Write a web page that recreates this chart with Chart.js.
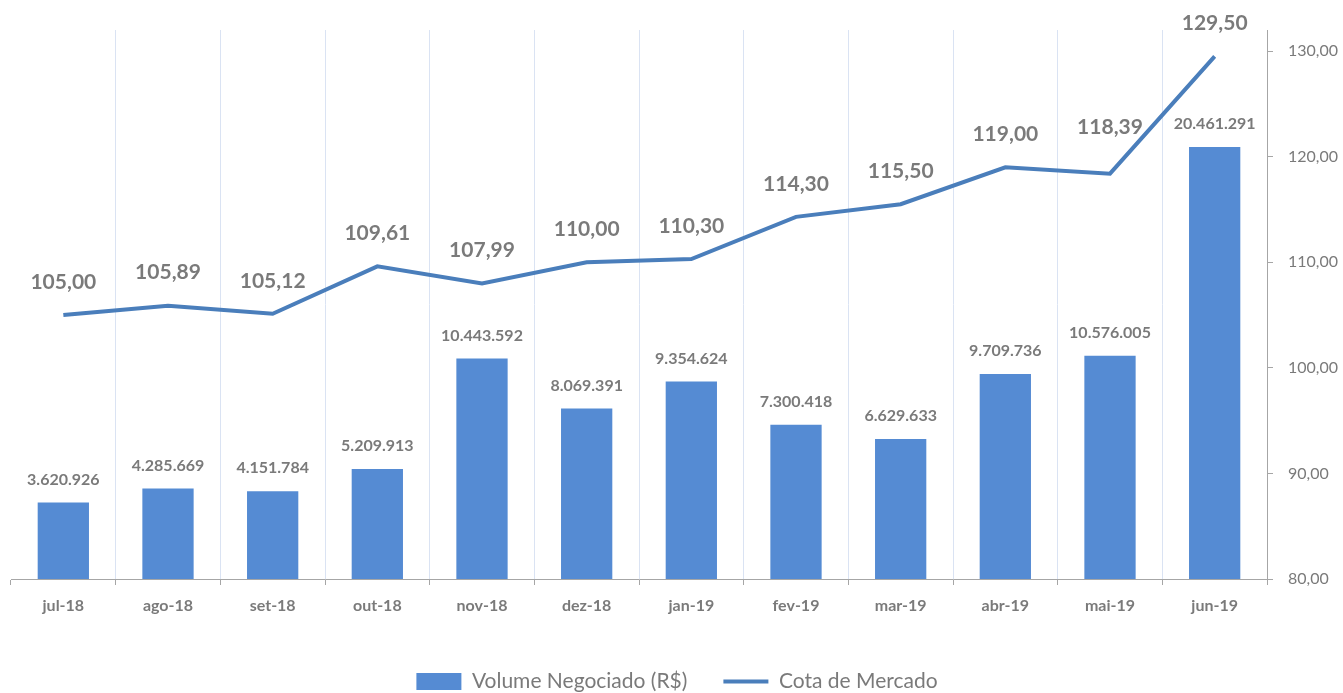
<!DOCTYPE html>
<html>
<head>
<meta charset="utf-8">
<script src="https://cdn.jsdelivr.net/npm/chart.js@4"></script>
<style>
  html, body { margin: 0; padding: 0; background: #fff; }
  #wrap { width: 1343px; height: 693px; }
</style>
</head>
<body>
<div id="wrap"><canvas id="mainChart"></canvas></div>
<script>
'use strict';

/* data */
var months = ['jul-18', 'ago-18', 'set-18', 'out-18', 'nov-18', 'dez-18',
              'jan-19', 'fev-19', 'mar-19', 'abr-19', 'mai-19', 'jun-19'];
var volume = [3620926, 4285669, 4151784, 5209913, 10443592, 8069391,
              9354624, 7300418, 6629633, 9709736, 10576005, 20461291];
var cota = [105.00, 105.89, 105.12, 109.61, 107.99, 110.00,
            110.30, 114.30, 115.50, 119.00, 118.39, 129.50];
var cotaTicks = [80, 90, 100, 110, 120, 130];

var grey = '#7a7a7a';
var fontName = 'Lato';

/* number formats, pt-BR style */
function fmtThousands(v) {
	return String(v).replace(/\B(?=(\d{3})+(?!\d))/g, '.');
}
function fmtDecimal(v) {
	return v.toFixed(2).replace('.', ',');
}

/* value labels above bars and line points */
var valueLabels = {
	id: 'valueLabels',
	afterDatasetsDraw: function (chart) {
		var ctx = chart.ctx;
		ctx.save();
		ctx.textAlign = 'center';
		ctx.textBaseline = 'middle';
		ctx.fillStyle = grey;
		chart.data.datasets.forEach(function (ds, di) {
			var meta = chart.getDatasetMeta(di);
			meta.data.forEach(function (el, i) {
				var v = ds.data[i];
				if (ds.type === 'bar') {
					ctx.font = 'bold 16px ' + fontName;
					ctx.fillText(fmtThousands(v), el.x, el.y - 23);
				} else {
					var lift = (i === 10) ? 46 : 33;
					ctx.font = 'bold 21px ' + fontName;
					ctx.fillText(fmtDecimal(v), el.x, el.y - lift);
				}
			});
		});
		ctx.restore();
	}
};

/* keep the legend short while using a wide gap between its items */
var legendHeight = {
	id: 'legendHeight',
	afterInit: function (chart) {
		var legend = chart.legend;
		var fit = legend.fit;
		legend.fit = function () {
			fit.call(this);
			this.height = 58;
		};
	}
};

var chartCtx = document.getElementById('mainChart').getContext('2d');
var chart = new Chart(chartCtx, {
	data: {
		labels: months,
		datasets: [{
			type: 'bar',
			label: 'Volume Negociado (R$)',
			data: volume,
			yAxisID: 'yVol',
			backgroundColor: '#558bd3',
			borderWidth: 0,
			pointStyle: 'rect',
			barPercentage: 0.49,
			categoryPercentage: 1,
			order: 2
		}, {
			type: 'line',
			label: 'Cota de Mercado',
			data: cota,
			yAxisID: 'yCota',
			borderColor: '#4a7ebb',
			backgroundColor: '#4a7ebb',
			borderWidth: 4,
			pointRadius: 0,
			pointStyle: 'line',
			tension: 0,
			order: 1
		}]
	},
	options: {
		responsive: true,
		maintainAspectRatio: false,
		animation: false,
		layout: { padding: { left: 11, top: 30, right: 0, bottom: 0 } },
		plugins: {
			tooltip: { enabled: false },
			legend: {
				position: 'bottom',
				labels: {
					usePointStyle: true,
					pointStyleWidth: 45,
					boxHeight: 17,
					padding: 36,
					color: grey,
					font: { family: fontName, size: 21 },
					sort: function (a, b) { return a.datasetIndex - b.datasetIndex; }
				}
			}
		},
		scales: {
			x: {
				offset: true,
				grid: {
					offset: true,
					tickLength: 6,
					tickColor: '#a6a6a6',
					color: function (c) {
						return (c.index === 0 || c.index === months.length) ? 'rgba(0,0,0,0)' : '#dae3f3';
					}
				},
				border: { color: '#a6a6a6', width: 1 },
				ticks: {
					color: grey,
					padding: 11,
					font: { family: fontName, size: 16, weight: 'bold' }
				},
				afterFit: function (scale) { scale.height = 56; }
			},
			yVol: {
				type: 'linear',
				display: false,
				position: 'left',
				min: 0,
				max: 26000000
			},
			yCota: {
				type: 'linear',
				position: 'right',
				min: 80,
				max: 132,
				grid: { drawOnChartArea: false, tickLength: 6, color: '#a6a6a6' },
				border: { color: '#a6a6a6', width: 1 },
				afterBuildTicks: function (scale) {
					scale.ticks = cotaTicks.map(function (v) { return { value: v }; });
				},
				ticks: {
					color: grey,
					padding: 15,
					font: { family: fontName, size: 16 },
					callback: function (v) { return fmtDecimal(v); }
				},
				afterFit: function (scale) { scale.width = 76; }
			}
		}
	},
	plugins: [valueLabels, legendHeight]
});
</script>
</body>
</html>
